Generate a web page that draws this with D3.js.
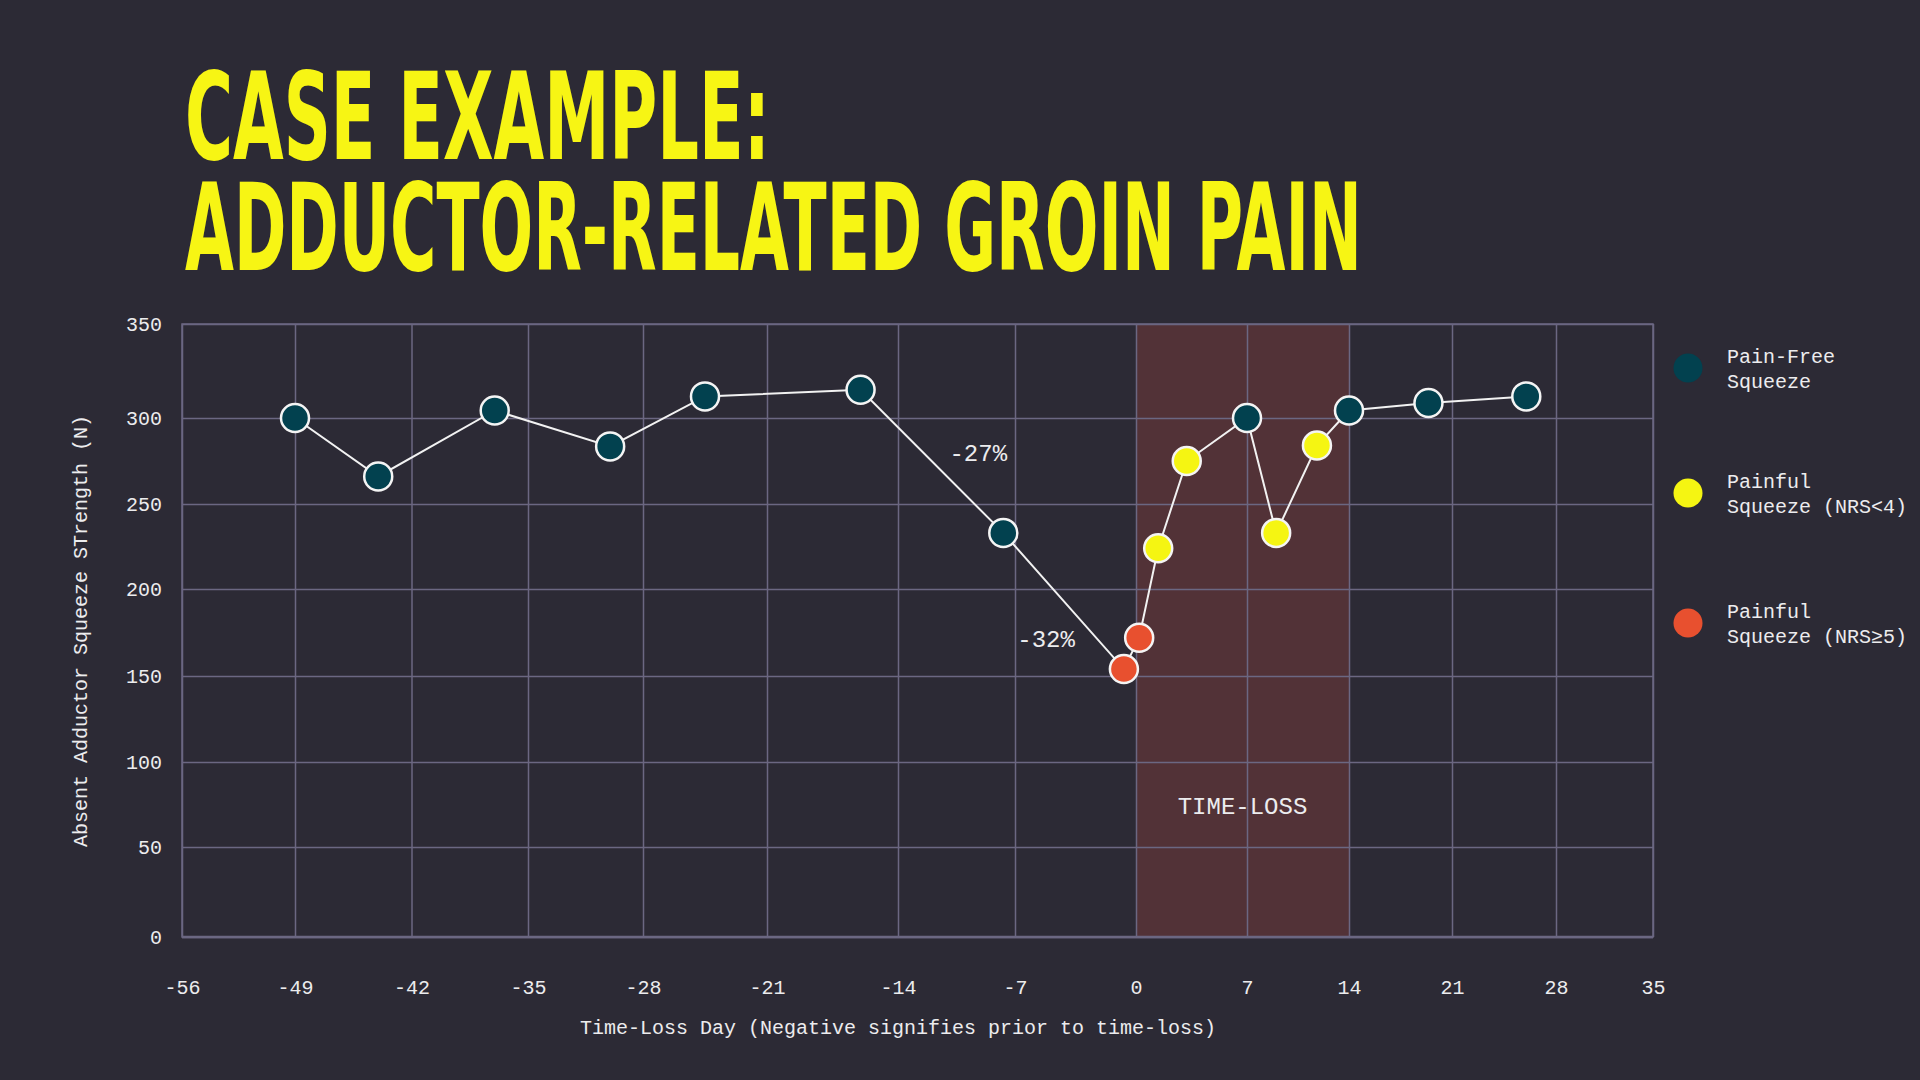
<!DOCTYPE html>
<html>
<head>
<meta charset="utf-8">
<script src="https://cdn.jsdelivr.net/npm/d3@7"></script>
<style>
  html, body { margin: 0; padding: 0; background: #2c2a35; }
  svg { display: block; }
</style>
</head>
<body>
<div class="svg-container"></div>
<script>
// ---- data ----
const days     = [-49, -44, -37, -30, -24.5, -16, -7.7, -0.7, 0.2, 1.4, 3.2, 7, 9, 11.8, 14, 19.4, 26];
const strength = [300, 266, 304, 283.5, 311.5, 315, 233, 154, 172, 224, 275, 300, 233, 284, 304, 308, 311.5];
// 0 = pain-free, 1 = painful NRS<4, 2 = painful NRS>=5
const painLevel = [0, 0, 0, 0, 0, 0, 0, 2, 2, 1, 1, 0, 1, 1, 0, 0, 0];

const painLabels = [["Pain-Free", "Squeeze"], ["Painful", "Squeeze (NRS<4)"], ["Painful", "Squeeze (NRS\u22655)"]];
const painColors = ["#02414f", "#f5f512", "#e8502f"];

const xTicks = [-56, -49, -42, -35, -28, -21, -14, -7, 0, 7, 14, 21, 28, 35];
const yTicks = [0, 50, 100, 150, 200, 250, 300, 350];
const timeLoss = [0, 14];
const notes = [
  { day: -9.2, value: 278.5, text: "-27%" },
  { day: -5.2, value: 170.5, text: "-32%" }
];
const titleLines = ["CASE EXAMPLE:", "ADDUCTOR-RELATED GROIN PAIN"];

// ---- layout ----
const width = 1920, height = 1080;
const plotL = 182, plotR = 1653, plotT = 324, plotB = 937;
// the original axis is not evenly spaced, so the scales are piecewise
const xRange = [182, 295, 411.5, 528, 643, 767, 898, 1015, 1136, 1247, 1349, 1452, 1556, 1653];
const yRange = [937, 847, 762, 676, 589, 504, 418, 324];

const mono = "'Liberation Mono', 'DejaVu Sans Mono', monospace";
const textColor = "#ececee";
const gridColor = "#6b6782";

const x = d3.scaleLinear().domain(xTicks).range(xRange);
const y = d3.scaleLinear().domain(yTicks).range(yRange);

const svg = d3.select(".svg-container")
  .append("svg")
  .attr("width", width)
  .attr("height", height)
  .attr("viewBox", "0 0 " + width + " " + height);

svg.append("rect").attr("width", width).attr("height", height).attr("fill", "#2c2a35");

// title: a tall condensed face is faked by stretching a condensed bold font
const titleFont = "'Liberation Sans Narrow', 'DejaVu Sans Condensed', 'Roboto', sans-serif";
const titleBase = [159, 270], titleWidth = [585, 1177];
svg.selectAll(".title")
  .data(titleLines)
  .enter()
  .append("text")
  .attr("class", "title")
  .attr("fill", "#f7f514")
  .attr("font-family", titleFont)
  .attr("font-weight", "bold")
  .attr("font-size", "88px")
  .text(function (d) { return d; })
  .attr("transform", function (d, i) {
    const sx = titleWidth[i] / this.getComputedTextLength();
    return "translate(185," + titleBase[i] + ") scale(" + sx + ",1.375)";
  });

// time-loss band
svg.append("rect")
  .attr("x", x(timeLoss[0]))
  .attr("y", plotT)
  .attr("width", x(timeLoss[1]) - x(timeLoss[0]))
  .attr("height", plotB - plotT)
  .attr("fill", "#523237");

// axes + grid
const xAxis = svg.append("g")
  .attr("transform", "translate(0," + plotB + ")")
  .call(d3.axisBottom(x).tickValues(xTicks).tickSize(-(plotB - plotT)).tickPadding(43).tickFormat(d3.format("d")));
const yAxis = svg.append("g")
  .attr("transform", "translate(" + plotL + ",0)")
  .call(d3.axisLeft(y).tickValues(yTicks).tickSize(-(plotR - plotL)).tickPadding(20).tickFormat(d3.format("d")));

[xAxis, yAxis].forEach(function (a) {
  a.select(".domain").remove();
  a.selectAll(".tick line").attr("stroke", gridColor).attr("stroke-width", 1.5);
  a.selectAll(".tick text")
    .attr("fill", textColor)
    .attr("font-family", mono)
    .attr("font-size", "20px");
});
// plain hyphen for negatives, like the original
xAxis.selectAll(".tick text").text(function (d) { return String(d); });

svg.append("rect")
  .attr("x", plotL).attr("y", plotT)
  .attr("width", plotR - plotL).attr("height", plotB - plotT)
  .attr("fill", "none")
  .attr("stroke", gridColor)
  .attr("stroke-width", 1.5);
svg.append("line")
  .attr("x1", plotL).attr("x2", plotR).attr("y1", plotB).attr("y2", plotB)
  .attr("stroke", gridColor).attr("stroke-width", 2.5);

// axis titles
svg.append("text")
  .attr("x", 898).attr("y", 1028)
  .attr("text-anchor", "middle").attr("dominant-baseline", "central")
  .attr("fill", textColor).attr("font-family", mono).attr("font-size", "20px")
  .text("Time-Loss Day (Negative signifies prior to time-loss)");
svg.append("text")
  .attr("transform", "translate(81,631) rotate(-90)")
  .attr("text-anchor", "middle").attr("dominant-baseline", "central")
  .attr("fill", textColor).attr("font-family", mono).attr("font-size", "20px")
  .text("Absent Adductor Squeeze STrength (N)");

// band label + annotations
svg.append("text")
  .attr("x", (x(timeLoss[0]) + x(timeLoss[1])) / 2)
  .attr("y", y(73.5))
  .attr("text-anchor", "middle").attr("dominant-baseline", "central")
  .attr("fill", textColor).attr("font-family", mono).attr("font-size", "24px")
  .text("TIME-LOSS");

svg.selectAll(".note")
  .data(notes)
  .enter()
  .append("text")
  .attr("class", "note")
  .attr("x", function (d) { return x(d.day); })
  .attr("y", function (d) { return y(d.value); })
  .attr("text-anchor", "middle").attr("dominant-baseline", "central")
  .attr("fill", textColor).attr("font-family", mono).attr("font-size", "24px")
  .text(function (d) { return d.text; });

// line + points
const points = days.map(function (d, i) { return { day: d, value: strength[i], level: painLevel[i] }; });

svg.append("path")
  .datum(points)
  .attr("fill", "none")
  .attr("stroke", "#f2f2f2")
  .attr("stroke-width", 2)
  .attr("d", d3.line().x(function (d) { return x(d.day); }).y(function (d) { return y(d.value); }));

svg.selectAll(".pt")
  .data(points)
  .enter()
  .append("circle")
  .attr("class", "pt")
  .attr("cx", function (d) { return x(d.day); })
  .attr("cy", function (d) { return y(d.value); })
  .attr("r", 14)
  .attr("fill", function (d) { return painColors[d.level]; })
  .attr("stroke", "#f4f4f4")
  .attr("stroke-width", 2.5);

// legend
const legend = svg.selectAll(".legend")
  .data(painLabels)
  .enter()
  .append("g")
  .attr("class", "legend")
  .attr("transform", function (d, i) { return "translate(1688," + [368, 493, 623][i] + ")"; });

legend.append("circle")
  .attr("r", 14.5)
  .attr("fill", function (d, i) { return painColors[i]; });

legend.append("text")
  .attr("fill", textColor).attr("font-family", mono).attr("font-size", "20px")
  .selectAll("tspan")
  .data(function (d) { return d; })
  .enter()
  .append("tspan")
  .attr("x", 39)
  .attr("y", function (d, i) { return i === 0 ? -11 : 14; })
  .attr("dominant-baseline", "central")
  .text(function (d) { return d; });
</script>
</body>
</html>
